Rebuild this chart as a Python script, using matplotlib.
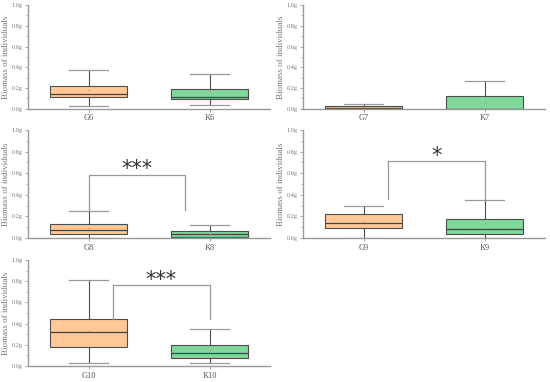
import matplotlib.pyplot as plt
from matplotlib.ticker import MultipleLocator, FuncFormatter

# box statistics (g per individual)
labels = [("G6", "K6"), ("G7", "K7"), ("G8", "K8"), ("G9", "K9"), ("G10", "K10")]
q1 = [(0.115, 0.093), (0.0, 0.0), (0.041, 0.007), (0.092, 0.041), (0.178, 0.079)]
med = [(0.144, 0.119), (0.013, 0.003), (0.072, 0.034), (0.137, 0.086), (0.32, 0.12)]
q3 = [(0.224, 0.192), (0.026, 0.122), (0.13, 0.065), (0.219, 0.171), (0.441, 0.197)]
whislo = [(0.032, 0.042), (0.0, 0.0), (0.003, 0.0), (0.0, 0.0), (0.025, 0.025)]
whishi = [(0.372, 0.333), (0.05, 0.27), (0.247, 0.116), (0.30, 0.356), (0.816, 0.349)]
means = [(0.18, 0.17), (0.015, 0.058), (0.096, 0.04), (0.144, 0.137), (0.333, 0.152)]

# significance brackets: panel index -> (x_left, x_right, y_left, y_right, y_top, text, text_x, text_y)
sig = {
    2: (1.0, 1.8, 0.25, 0.26, 0.58, "***", 1.4, 0.64),
    3: (1.2, 2.0, 0.36, 0.36, 0.71, "*", 1.6, 0.76),
    4: (1.2, 2.0, 0.44, 0.44, 0.765, "***", 1.6, 0.81),
}

colors = ["#FFC896", "#7ED99A"]
grey = "#999999"
dark = "#4d4d4d"

plt.rcParams['font.family'] = ['Liberation Serif', 'DejaVu Serif']

fig = plt.figure(figsize=(5.5, 3.82), dpi=100)
positions = [
    [0.051, 0.715, 0.44, 0.272],
    [0.551, 0.715, 0.44, 0.272],
    [0.051, 0.377, 0.44, 0.283],
    [0.551, 0.377, 0.44, 0.283],
    [0.051, 0.042, 0.44, 0.277],
]

for i, pos in enumerate(positions):
    ax = fig.add_axes(pos)
    stats = []
    for j in range(2):
        stats.append({
            "label": labels[i][j],
            "q1": q1[i][j], "med": med[i][j], "q3": q3[i][j],
            "whislo": whislo[i][j], "whishi": whishi[i][j],
            "mean": means[i][j], "fliers": [],
        })
    bp = ax.bxp(stats, positions=[1, 2], widths=0.64, capwidths=0.32,
                showmeans=True, patch_artist=True,
                boxprops=dict(edgecolor=dark, linewidth=0.8),
                medianprops=dict(color="#444444", linewidth=0.9),
                whiskerprops=dict(color=dark, linewidth=0.8),
                capprops=dict(color=grey, linewidth=0.9),
                meanprops=dict(marker="s", markersize=1.0, markerfacecolor="#cc8866",
                               markeredgecolor="none"))
    for patch, c in zip(bp["boxes"], colors):
        patch.set_facecolor(c)

    if i in sig:
        xl, xr, yl, yr, yt, txt, tx, ty = sig[i]
        ax.plot([xl, xl, xr, xr], [yl, yt, yt, yr], color=grey, linewidth=0.9)
        ax.text(tx, ty, txt, ha="center", va="center", fontsize=15, color="#333333",
                family="DejaVu Sans")

    ax.set_xlim(0.5, 2.5)
    ax.set_ylim(0, 1.0)
    ax.yaxis.set_major_locator(MultipleLocator(0.2))
    ax.yaxis.set_minor_locator(MultipleLocator(0.1))
    ax.yaxis.set_major_formatter(FuncFormatter(lambda v, p: "%.1fg" % v))
    ax.spines["top"].set_visible(False)
    ax.spines["right"].set_visible(False)
    for s in ["left", "bottom"]:
        ax.spines[s].set_color(grey)
        ax.spines[s].set_linewidth(1.0)
    ax.tick_params(axis="y", which="major", length=2.5, width=0.6, color=grey,
                   labelsize=4.5, labelcolor="#777777", pad=1.5)
    ax.tick_params(axis="y", which="minor", length=1.5, width=0.5, color=grey)
    ax.tick_params(axis="x", length=2, width=0.6, color=grey,
                   labelsize=6, labelcolor="#555555", pad=2)
    ax.set_ylabel("Biomass of individuals", fontsize=6.5, color="#777777")
    ax.yaxis.set_label_coords(-0.075, 0.5)
    ax.patch.set_alpha(0)

fig.savefig("out.png", dpi=100)
